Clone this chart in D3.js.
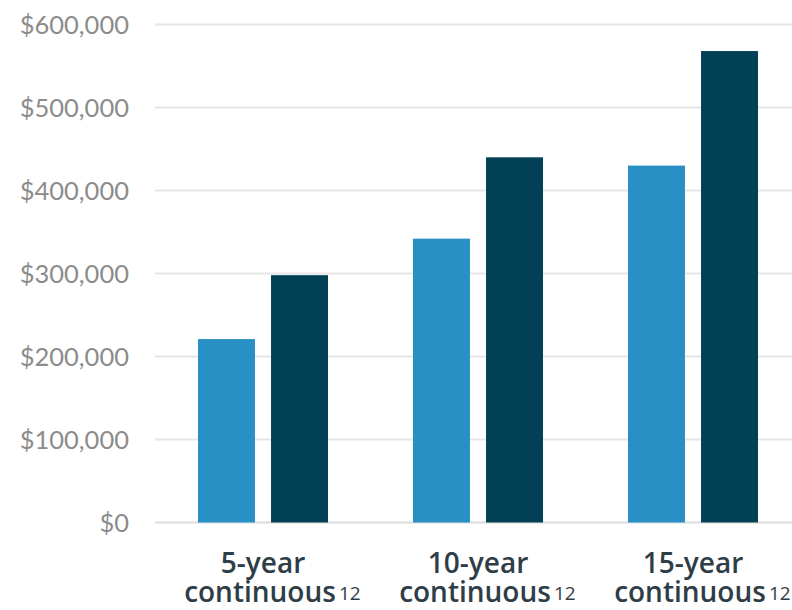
<!DOCTYPE html>
<html>
<head>
<meta charset="utf-8">
<script src="https://cdn.jsdelivr.net/npm/d3@7"></script>
<style>
  html, body { margin: 0; padding: 0; background: #fff; }
  svg { display: block; }
</style>
</head>
<body>
<svg id="chart" width="792" height="610"></svg>
<script>
const categories = ["5-year", "10-year", "15-year"];
const categorySub = ["continuous", "continuous", "continuous"];
const footnote = "12";
const seriesNames = ["Series A", "Series B"];
const seriesA = [221000, 342000, 430000];
const seriesB = [298000, 440000, 568000];
const yTicks = [0, 100000, 200000, 300000, 400000, 500000, 600000];
const colors = ["#2890c4", "#024055"];

const svg = d3.select("#chart");
const W = 792, H = 610;
const x = d3.scaleBand().domain(categories).range([155.5, 800.5]).paddingInner(0).paddingOuter(0);
const xs = d3.scaleBand().domain(seriesNames).range([x.bandwidth()/2 - 65, x.bandwidth()/2 + 65]).paddingInner(0.22).paddingOuter(0);
const y = d3.scaleLinear().domain([0, 600000]).range([522.5, 24.5]);

// gridlines
svg.append("g").selectAll("line").data(yTicks).join("line")
  .attr("x1", 155).attr("x2", W)
  .attr("y1", d => y(d)).attr("y2", d => y(d))
  .attr("stroke", d => d === 0 ? "#dcdcdc" : "#e6e6e6")
  .attr("stroke-width", 2);

// y axis labels
const yAxis = d3.axisLeft(y).tickValues(yTicks).tickSize(0).tickPadding(0)
  .tickFormat(d => "$" + d3.format(",")(d));
const ya = svg.append("g").attr("transform", "translate(129,0)").call(yAxis);
ya.select(".domain").remove();
ya.selectAll("text")
  .attr("font-family", "Lato, sans-serif")
  .attr("font-size", 25.5)
  .attr("fill", "#8c8c8c")
  .attr("dy", "0.36em");

// bars
const data = categories.map((c, i) => ({cat: c, vals: [seriesA[i], seriesB[i]]}));
const groups = svg.append("g").selectAll("g").data(data).join("g")
  .attr("transform", d => `translate(${x(d.cat)},0)`);
groups.selectAll("rect").data(d => d.vals.map((v, j) => ({name: seriesNames[j], v, j})))
  .join("rect")
  .attr("x", d => xs(d.name))
  .attr("width", xs.bandwidth())
  .attr("y", d => y(d.v))
  .attr("height", d => y(0) - y(d.v))
  .attr("fill", d => colors[d.j]);

// x labels
const lab = svg.append("g").selectAll("g").data(categories).join("g")
  .attr("transform", d => `translate(${x(d) + x.bandwidth()/2},0)`);
lab.append("text")
  .attr("y", 573)
  .attr("text-anchor", "middle")
  .attr("font-family", "'Open Sans', sans-serif")
  .attr("font-weight", 600)
  .attr("font-size", 28)
  .attr("fill", "#2f3d47")
  .text(d => d);
lab.append("text")
  .attr("y", 602)
  .attr("x", -3)
  .attr("text-anchor", "middle")
  .attr("font-family", "'Open Sans', sans-serif")
  .attr("font-weight", 600)
  .attr("font-size", 28)
  .attr("fill", "#2f3d47")
  .text((d, i) => categorySub[i]);
lab.append("text")
  .attr("y", 600)
  .attr("x", 76)
  .attr("font-family", "'Open Sans', sans-serif")
  .attr("font-size", 19)
  .attr("fill", "#2f3d47")
  .text(footnote);
</script>
</body>
</html>
